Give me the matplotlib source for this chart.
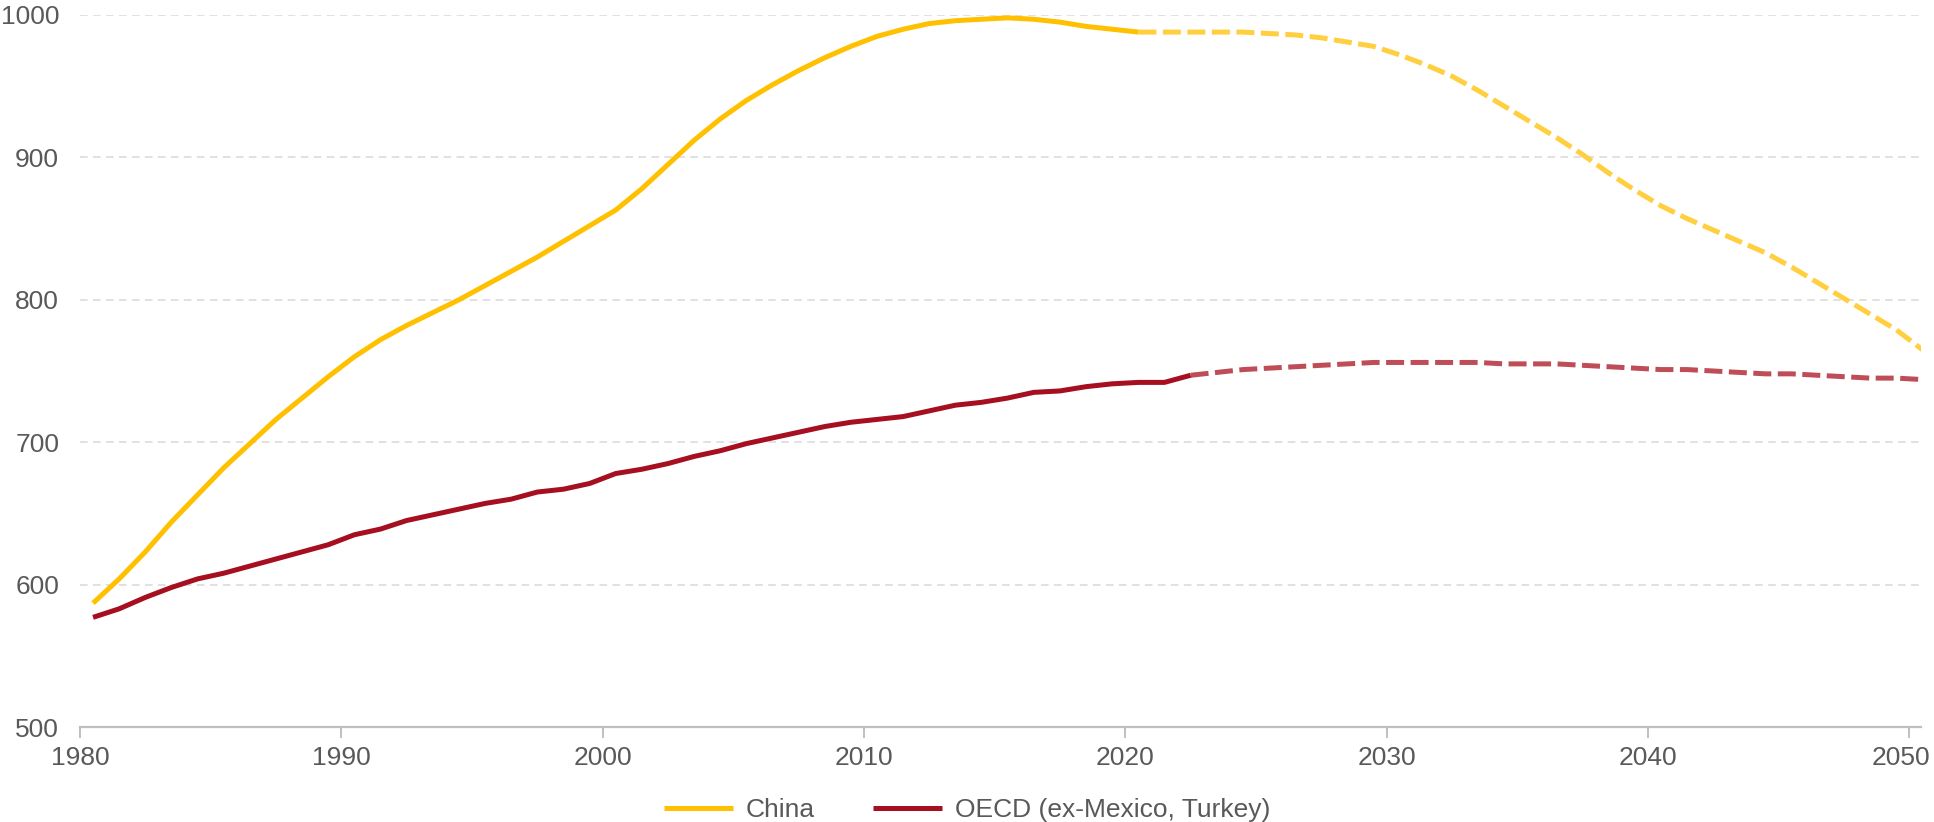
import numpy as np
import matplotlib
matplotlib.use("Agg")
from matplotlib import pyplot as plt
from matplotlib import font_manager
from matplotlib.transforms import ScaledTranslation

# annual values, plotted at mid-year
china_years = np.arange(1980, 2051) + 0.5
china = [587, 604, 623, 644, 663, 682, 699, 716, 731, 746,
         760, 772, 782, 791, 800, 810, 820, 830, 841, 852,
         863, 878, 895, 912, 927, 940, 951, 961, 970, 978,
         985, 990, 994, 996, 997, 998, 997, 995, 992, 990,
         988, 988, 988, 988, 988, 987, 986, 984, 981, 978,
         972, 965, 957, 947, 936, 925, 914, 902, 889, 877,
         866, 857, 849, 841, 833, 823, 812, 801, 790, 779,
         765]
china_last_actual = 2020

oecd_years = np.arange(1980, 2051) + 0.5
oecd = [577, 583, 591, 598, 604, 608, 613, 618, 623, 628,
        635, 639, 645, 649, 653, 657, 660, 665, 667, 671,
        678, 681, 685, 690, 694, 699, 703, 707, 711, 714,
        716, 718, 722, 726, 728, 731, 735, 736, 739, 741,
        742, 742, 747, 749, 751, 752, 753, 754, 755, 756,
        756, 756, 756, 756, 755, 755, 755, 754, 753, 752,
        751, 751, 750, 749, 748, 748, 747, 746, 745, 745,
        744]
oecd_last_actual = 2022

series_names = ["China", "OECD (ex-Mexico, Turkey)"]
x_ticks = [1980, 1990, 2000, 2010, 2020, 2030, 2040, 2050]
y_ticks = [500, 600, 700, 800, 900, 1000]

installed = {f.name for f in font_manager.fontManager.ttflist}
narrow = "Liberation Sans Narrow" in installed
font = "Liberation Sans Narrow" if narrow else "Liberation Sans"
plt.rcParams["font.family"] = [font, "DejaVu Sans"]

text_col = "#595959"
fs = 21.6 if narrow else 19

fig = plt.figure(figsize=(19.34, 8.22), dpi=100)
ax = fig.add_axes([80 / 1934, 1 - 727 / 822, (1921 - 80) / 1934, (727 - 15) / 822])

dash = (3.6, 1.3)
lw = 3.6


def draw(years, vals, last, solid_col, dash_col, label):
    years = np.asarray(years)
    vals = np.asarray(vals, dtype=float)
    cut = int(np.searchsorted(years, last + 0.5)) + 1
    ax.plot(years[cut - 1:], vals[cut - 1:], color=dash_col, lw=lw,
            linestyle=(0, dash), dash_capstyle="butt", zorder=3)
    ax.plot(years[:cut], vals[:cut], color=solid_col, lw=lw,
            solid_capstyle="butt", solid_joinstyle="round", label=label, zorder=4)


draw(china_years, china, china_last_actual, "#FFC000", "#FFCF3F", series_names[0])
draw(oecd_years, oecd, oecd_last_actual, "#A50F1F", "#BF4D57", series_names[1])

ax.set_xlim(1980, 2050.45)
ax.set_ylim(500, 1000)
ax.set_xticks(x_ticks)
ax.set_yticks(y_ticks)

ax.grid(axis="y", color="#d9d9d9", lw=1.1, linestyle=(0, (5, 3.5)))
ax.set_axisbelow(True)
for s in ["top", "right", "left"]:
    ax.spines[s].set_visible(False)
ax.spines["bottom"].set_color("#bfbfbf")
ax.spines["bottom"].set_linewidth(1.6)
ax.spines["bottom"].set_zorder(5)

ax.tick_params(axis="x", length=8, width=1.4, color="#bfbfbf", pad=6,
               labelsize=fs, labelcolor=text_col)
ax.tick_params(axis="y", length=0, pad=15, labelsize=fs, labelcolor=text_col)

# last year label sits a little left of its tick so it stays inside the figure
last_lab = ax.get_xticklabels()[-1]
last_lab.set_transform(last_lab.get_transform() +
                       ScaledTranslation(-8 / 100, 0, fig.dpi_scale_trans))

fig.legend(loc="center", bbox_to_anchor=(0.5, 1 - 810 / 822), ncol=2,
           frameon=False, fontsize=fs, labelcolor=text_col,
           handlelength=2.6, handletextpad=0.5, columnspacing=2.2)

fig.savefig("out.png", dpi=100)
